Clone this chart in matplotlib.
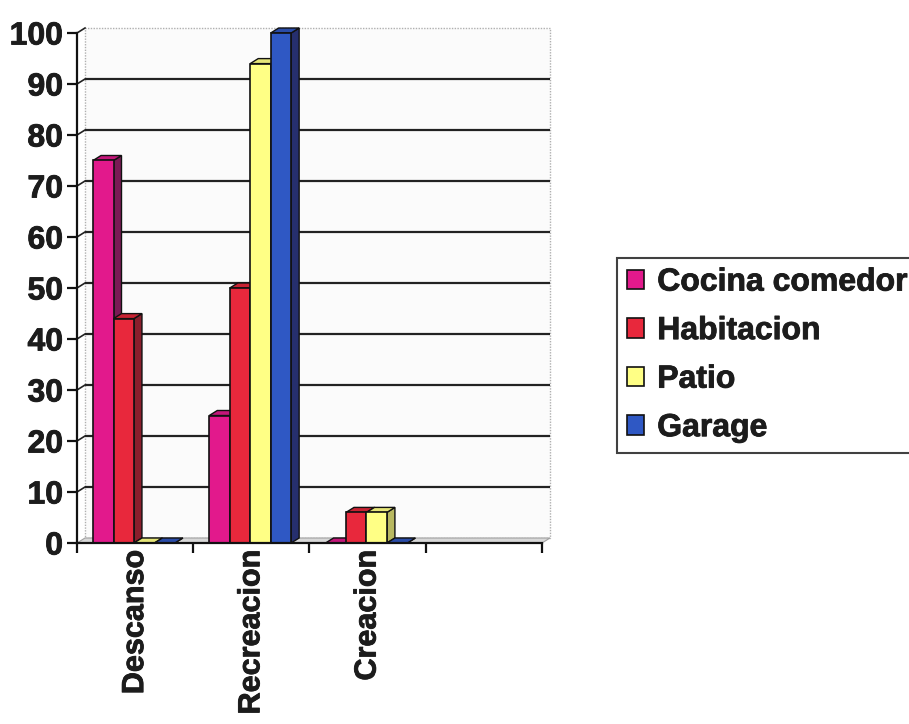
import matplotlib
matplotlib.use("Agg")
import matplotlib.pyplot as plt
import matplotlib.patheffects as pe
from matplotlib.patches import Rectangle, Polygon, Patch

# ---- data ----
categories = ["Descanso", "Recreacion", "Creacion"]
series = ["Cocina comedor", "Habitacion", "Patio", "Garage"]
cocina = [75, 25, 0]
habitacion = [44, 50, 6]
patio = [0, 94, 6]
garage = [0, 100, 0]
yticks = [0, 10, 20, 30, 40, 50, 60, 70, 80, 90, 100]

values = [cocina, habitacion, patio, garage]
front_colors = ["#E2198C", "#E8283C", "#FFFF85", "#2F58C4"]
top_colors = ["#C4167A", "#C82232", "#E6E678", "#2A4CA8"]
side_colors = ["#7A1A55", "#8A1E2C", "#B8B860", "#262F6E"]

plt.rcParams["font.family"] = ["Liberation Sans", "DejaVu Sans"]
plt.rcParams["font.weight"] = "bold"
TXT = "#1c1c1c"
FS = 23
FSX = 22
heavy = [pe.withStroke(linewidth=0.6, foreground=TXT)]

W, H = 909, 724
fig = plt.figure(figsize=(W / 100, H / 100), dpi=100)
fig.patch.set_facecolor("white")
ax = fig.add_axes([77 / W, 181 / H, 465 / W, 510 / H])
n_slots = 4
ax.set_xlim(0, n_slots)
ax.set_ylim(0, 100)
ax.set_facecolor("none")

# depth offsets (pixels -> data units)
DXP, DYP = 8, 5
ddx = DXP / (465 / n_slots)
ddy = DYP / (510 / 100)

# back wall
wall = Rectangle((ddx, ddy), n_slots, 100, facecolor="#fbfbfb", edgecolor="#b0b0b0",
                 lw=1.0, ls=(0, (1, 1)), zorder=0, clip_on=False)
ax.add_patch(wall)
# floor
floor = Polygon([(0, 0), (n_slots, 0), (n_slots + ddx, ddy), (ddx, ddy)], closed=True,
                facecolor="#d8d8d8", edgecolor="#a0a0a0", lw=0.8, zorder=0.5, clip_on=False)
ax.add_patch(floor)

# gridlines on back wall + connectors
for v in yticks[1:-1]:
    ax.plot([ddx, n_slots + ddx], [v + ddy, v + ddy], color="#222222", lw=1.6,
            zorder=1, clip_on=False, solid_capstyle="butt")
for v in yticks[1:]:
    ax.plot([0, ddx], [v, v + ddy], color="#222222", lw=1.2, zorder=1, clip_on=False)

# bars
bar_start = 0.138
bw = 0.176
for i in range(len(categories)):
    for j in range(len(series)):
        h = values[j][i]
        x0 = i + bar_start + j * bw
        z = 2 + i * 10 + j
        ax.add_patch(Polygon([(x0 + bw, 0), (x0 + bw + ddx, ddy), (x0 + bw + ddx, h + ddy), (x0 + bw, h)],
                             closed=True, facecolor=side_colors[j], edgecolor="#111111",
                             lw=1.0, zorder=z, clip_on=False))
        ax.add_patch(Polygon([(x0, h), (x0 + bw, h), (x0 + bw + ddx, h + ddy), (x0 + ddx, h + ddy)],
                             closed=True, facecolor=top_colors[j], edgecolor="#111111",
                             lw=1.0, zorder=z, clip_on=False))
        if h > 0:
            ax.add_patch(Rectangle((x0, 0), bw, h, facecolor=front_colors[j],
                                   edgecolor="#111111", lw=1.2, zorder=z, clip_on=False))

# axes styling
for s in ["top", "right"]:
    ax.spines[s].set_visible(False)
for s in ["left", "bottom"]:
    ax.spines[s].set_color("#111111")
    ax.spines[s].set_linewidth(1.6)
    ax.spines[s].set_zorder(60)

ax.set_yticks(yticks)
ax.set_yticklabels([str(v) for v in yticks], fontsize=FS, fontweight="bold", color=TXT)
ax.tick_params(axis="y", direction="out", length=7, width=1.6, color="#111111", pad=3)

ax.set_xticks(range(n_slots + 1))
ax.set_xticklabels([""] * (n_slots + 1))
ax.tick_params(axis="x", which="major", direction="out", length=7, width=1.6, color="#111111")
ax.set_xticks([i + 0.5 for i in range(len(categories))], minor=True)
ax.set_xticklabels(categories, minor=True, rotation=90, fontsize=FSX, fontweight="bold",
                   color=TXT, va="top", ha="center")
ax.tick_params(axis="x", which="minor", length=0, pad=5)
for t in ax.get_yticklabels() + ax.get_xticklabels(minor=True):
    t.set_path_effects(heavy)

# legend
handles = [Patch(facecolor=front_colors[j], edgecolor="#111111", lw=1.2) for j in range(len(series))]
leg = fig.legend(handles, series, loc="upper left", bbox_to_anchor=(617 / W, 1 - 258 / H),
                 frameon=True, fancybox=False, prop={"size": FS, "weight": "bold"},
                 handlelength=0.56, handleheight=0.56, handletextpad=0.4,
                 labelspacing=0.58, borderpad=0.3, borderaxespad=0)
leg.get_frame().set_edgecolor("#111111")
leg.get_frame().set_linewidth(1.5)
for t in leg.get_texts():
    t.set_color(TXT)
    t.set_path_effects(heavy)

fig.savefig("out.png", dpi=100, facecolor="white")
